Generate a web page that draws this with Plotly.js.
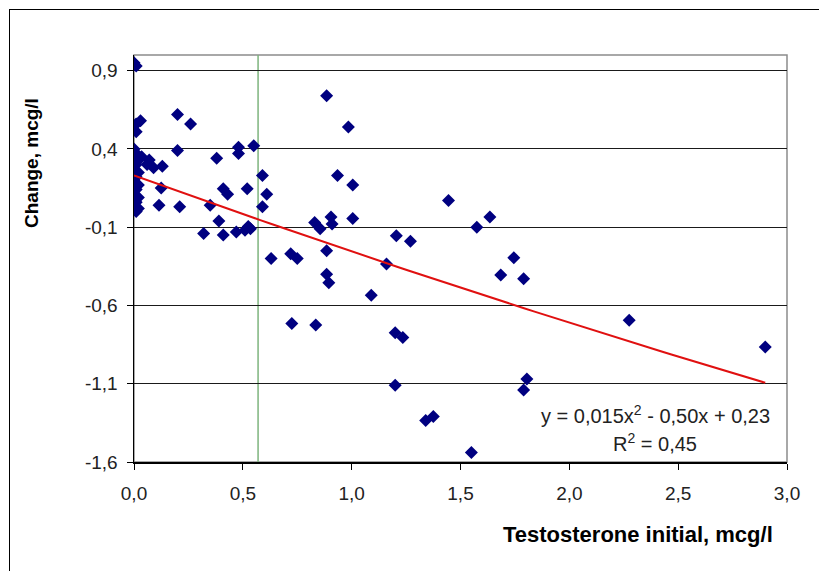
<!DOCTYPE html>
<html>
<head>
<meta charset="utf-8">
<script src="https://cdn.plot.ly/plotly-3.0.1.min.js"></script>
<style>
  html, body { margin: 0; padding: 0; background: #fff; overflow: hidden; }
  #chart { position: absolute; left: 0; top: 0; width: 819px; height: 571px; }
  #frame { position: absolute; left: 9px; top: 9px; width: 900px; height: 700px;
           border: 1px solid #000; pointer-events: none; }
</style>
</head>
<body>
<div id="chart"></div>
<div id="frame"></div>
<script>
// Initial testosterone (mcg/l) per patient
const testosteroneInitial = [
  0.00, 0.01, 0.03, 0.01, 0.01,
  0.00, 0.01, 0.00, 0.02, 0.01, 0.00, 0.02, 0.01, 0.00, 0.02, 0.01, 0.00, 0.02, 0.01, 0.00, 0.02, 0.01,
  0.035, 0.07, 0.09, 0.13, 0.06, 0.125, 0.115, 0.21,
  0.20, 0.26, 0.20, 0.38, 0.48, 0.48, 0.55, 0.59, 0.61, 0.59, 0.41, 0.43, 0.52, 0.35, 0.39, 0.32, 0.41,
  0.47, 0.51, 0.525, 0.535,
  0.63, 0.72, 0.75, 0.885, 0.985, 0.935, 1.005, 1.445, 1.635, 1.575, 0.83, 0.855, 0.905, 0.91, 1.005,
  1.205, 1.27, 0.885, 1.16, 1.745, 0.885, 0.895, 1.09, 1.685, 1.79, 0.725, 0.835, 1.20, 1.235,
  1.20, 1.34, 1.375, 1.55, 1.805, 1.79, 2.275, 2.90
];

// Change of testosterone (mcg/l) per patient
const changeValues = [
  0.95, 0.93, 0.58, 0.56, 0.51,
  0.40, 0.37, 0.34, 0.33, 0.30, 0.27, 0.25, 0.22, 0.19, 0.17, 0.14, 0.11, 0.09, 0.06, 0.04, 0.02, 0.00,
  0.35, 0.33, 0.28, 0.29, 0.30, 0.15, 0.04, 0.03,
  0.62, 0.56, 0.39, 0.34, 0.41, 0.37, 0.42, 0.23, 0.11, 0.03, 0.145, 0.11, 0.145, 0.04, -0.06, -0.14, -0.15,
  -0.13, -0.12, -0.095, -0.11,
  -0.30, -0.27, -0.30, 0.74, 0.54, 0.23, 0.17, 0.07, -0.035, -0.10, -0.07, -0.11, -0.035, -0.08, -0.045,
  -0.155, -0.19, -0.25, -0.335, -0.295, -0.40, -0.455, -0.535, -0.405, -0.43, -0.715, -0.725, -0.775, -0.805,
  -1.11, -1.335, -1.31, -1.54, -1.07, -1.14, -0.695, -0.865
];

// Polynomial trend: y = a*x^2 + b*x + c
const trendCoef = [0.015, -0.50, 0.23];
const trendLabel = ['y = 0,015x<sup>2</sup> - 0,50x + 0,23', 'R<sup>2</sup> = 0,45'];

// Vertical reference level on the x axis
const referenceLevel = [0.57];

const xTickValues = [0, 0.5, 1, 1.5, 2, 2.5, 3];
const xTickLabels = ['0,0', '0,5', '1,0', '1,5', '2,0', '2,5', '3,0'];
const yTickValues = [-1.6, -1.1, -0.6, -0.1, 0.4, 0.9];
const yTickLabels = ['-1,6', '-1,1', '-0,6', '-0,1', '0,4', '0,9'];

const xTitle = 'Testosterone initial, mcg/l';
const yTitle = 'Change, mcg/l';

// trend curve sampled over the observed range
const xMax = Math.max(...testosteroneInitial);
const trendX = [], trendY = [];
for (let i = 0; i <= 60; i++) {
  const x = xMax * i / 60;
  trendX.push(x);
  trendY.push(trendCoef[0] * x * x + trendCoef[1] * x + trendCoef[2]);
}

const FONT = 'Liberation Sans, Arial, sans-serif';

const traces = [
  {
    x: testosteroneInitial, y: changeValues, type: 'scatter', mode: 'markers',
    marker: { symbol: 'diamond', size: 10, color: '#000080' },
    hoverinfo: 'x+y', showlegend: false
  },
  {
    x: trendX, y: trendY, type: 'scatter', mode: 'lines',
    line: { color: '#e01010', width: 2 },
    hoverinfo: 'skip', showlegend: false
  }
];

const layout = {
  width: 819, height: 571,
  margin: { l: 134, r: 32, t: 55, b: 109, pad: 0 },
  paper_bgcolor: 'rgba(0,0,0,0)',
  plot_bgcolor: '#fff',
  font: { family: FONT, size: 19, color: '#222' },
  showlegend: false,
  xaxis: {
    range: [0, 3], tickvals: xTickValues, ticktext: xTickLabels,
    ticks: 'outside', ticklen: 6, tickcolor: '#000', tickwidth: 1,
    showgrid: false, zeroline: false,
    showline: true, linecolor: '#000', linewidth: 1.5,
    ticklabelstandoff: 8,
    tickfont: { family: FONT, size: 19, color: '#222' }
  },
  yaxis: {
    range: [-1.6, 1.0], tickvals: yTickValues, ticktext: yTickLabels,
    ticks: 'outside', ticklen: 6, tickcolor: '#000', tickwidth: 1,
    showgrid: true, gridcolor: '#1a1a1a', gridwidth: 1, zeroline: false,
    showline: true, linecolor: '#000', linewidth: 1.5,
    ticklabelstandoff: 5,
    tickfont: { family: FONT, size: 19, color: '#222' }
  },
  shapes: [
    { type: 'rect', xref: 'paper', yref: 'paper', x0: 0, x1: 1, y0: 0, y1: 1,
      line: { color: '#8c8c8c', width: 1.5 }, layer: 'below' },
    { type: 'line', xref: 'x', yref: 'paper', x0: referenceLevel[0], x1: referenceLevel[0], y0: 0, y1: 1,
      line: { color: '#7db47d', width: 1.5 }, layer: 'below' }
  ],
  annotations: [
    { text: '<b>' + yTitle + '</b>', xref: 'paper', yref: 'paper', x: -0.156, y: 0.735,
      textangle: -90, showarrow: false, xanchor: 'center', yanchor: 'middle',
      font: { family: FONT, size: 19, color: '#000' } },
    { text: '<b>' + xTitle + '</b>', xref: 'paper', yref: 'paper', x: 0.982, y: -0.179,
      showarrow: false, xanchor: 'right', yanchor: 'middle',
      font: { family: FONT, size: 22, color: '#000' } },
    { text: trendLabel[0], xref: 'paper', yref: 'paper', x: 0.798, y: 0.1155,
      showarrow: false, xanchor: 'center', yanchor: 'middle',
      font: { family: FONT, size: 20, color: '#222' } },
    { text: trendLabel[1], xref: 'paper', yref: 'paper', x: 0.798, y: 0.0467,
      showarrow: false, xanchor: 'center', yanchor: 'middle',
      font: { family: FONT, size: 20, color: '#222' } }
  ]
};

Plotly.newPlot('chart', traces, layout, { displayModeBar: false, staticPlot: true });
</script>
</body>
</html>
